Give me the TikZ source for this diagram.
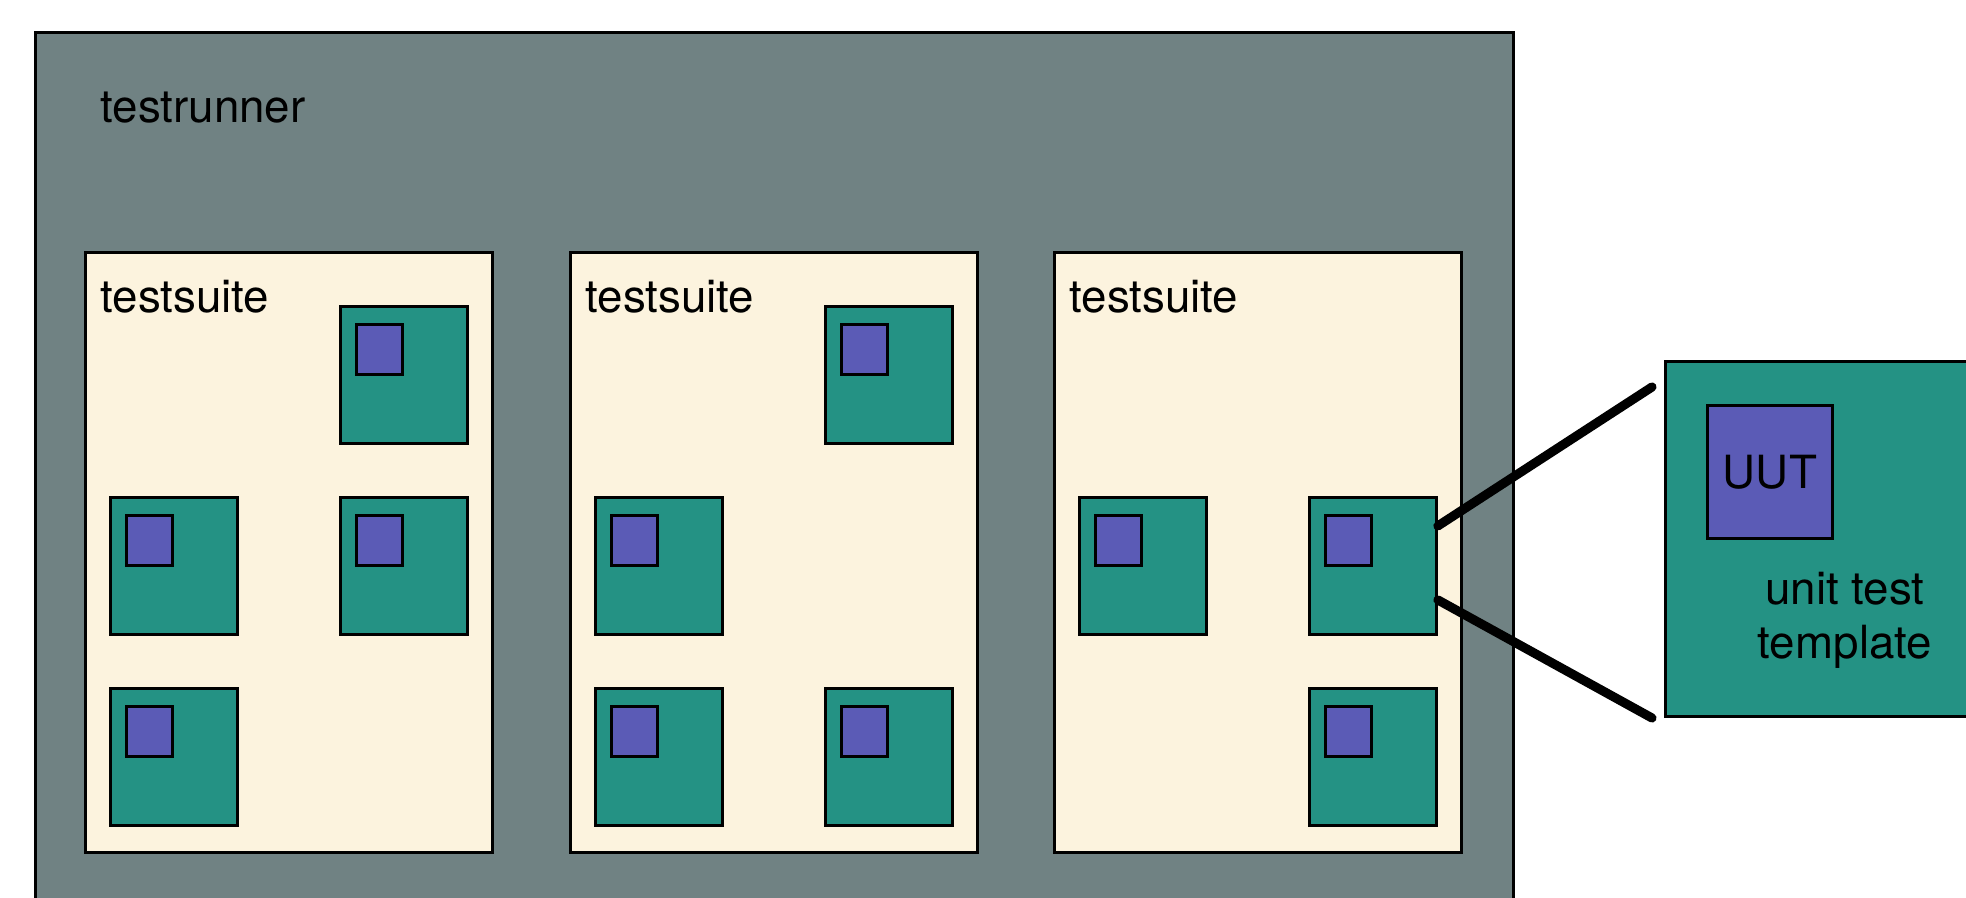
\documentclass[tikz,border=0pt]{standalone}
\usepackage{fontspec}
\setmainfont{TeX Gyre Heros}
\definecolor{runnergray}{HTML}{708283}
\definecolor{suitecream}{HTML}{FCF3DE}
\definecolor{unitteal}{HTML}{249284}
\definecolor{uutblue}{HTML}{5B5BB6}
\begin{document}
\begin{tikzpicture}[x=0.01cm, y=-0.01cm,
    box/.style={draw, line width=0.8pt, inner sep=0pt, anchor=north west},
    runner/.style={box, fill=runnergray, minimum width=14.77cm, minimum height=8.9cm},
    suite/.style={box, fill=suitecream, minimum width=4.07cm, minimum height=6cm},
    unit/.style={box, fill=unitteal, minimum width=1.27cm, minimum height=1.37cm},
    uut/.style={box, fill=uutblue, minimum width=0.46cm, minimum height=0.5cm},
    boxtitle/.style={inner sep=0pt, font=\fontsize{13}{15.4}\selectfont},
    zoomline/.style={line width=2.6pt, line cap=round}]
\useasboundingbox (0,0) rectangle (1966,898);
\node[runner] (runner) at (34,31) {};
\node[boxtitle, anchor=base west] (runnertitle) at ([shift={(66,92)}]runner.north west) {testrunner};
\foreach \s/\x in {1/84,2/569,3/1053}{
  \node[suite] (suite\s) at (\x,251) {};
  \node[boxtitle, anchor=base west] (suitetitle\s) at ([shift={(16,62)}]suite\s.north west) {testsuite};
}
% unit tests: suite / column+row / offset in the suite
\foreach \s/\c/\dx/\dy in {1/b1/255/54, 1/a2/25/245, 1/b2/255/245, 1/a3/25/436,
    2/b1/255/54, 2/a2/25/245, 2/a3/25/436, 2/b3/255/436,
    3/a2/25/245, 3/b2/255/245, 3/b3/255/436}{
  \node[unit] (unit\s\c) at ([shift={(\dx,\dy)}]suite\s.north west) {};
  \node[uut] (uut\s\c) at ([shift={(16,18)}]unit\s\c.north west) {};
}
% zoomed unit test
\node[box, fill=unitteal, minimum width=4cm, minimum height=3.55cm] (template) at (1664,360) {};
\node[uut, minimum width=1.25cm, minimum height=1.33cm, font=\fontsize{13}{15.4}\selectfont] (uut) at ([shift={(42,44)}]template.north west) {UUT};
\node[boxtitle, align=center] (templatetitle) at (1845,620) {unit test\\template};
\coordinate (zoomtop) at ([shift={(-12,27)}]template.north west);
\coordinate (zoombot) at ([xshift=-1.2mm]template.south west);
\draw[zoomline] ([yshift=4mm]unit3b2.east) -- (zoomtop);
\draw[zoomline] ([yshift=-3.4mm]unit3b2.east) -- (zoombot);
\end{tikzpicture}
\end{document}
